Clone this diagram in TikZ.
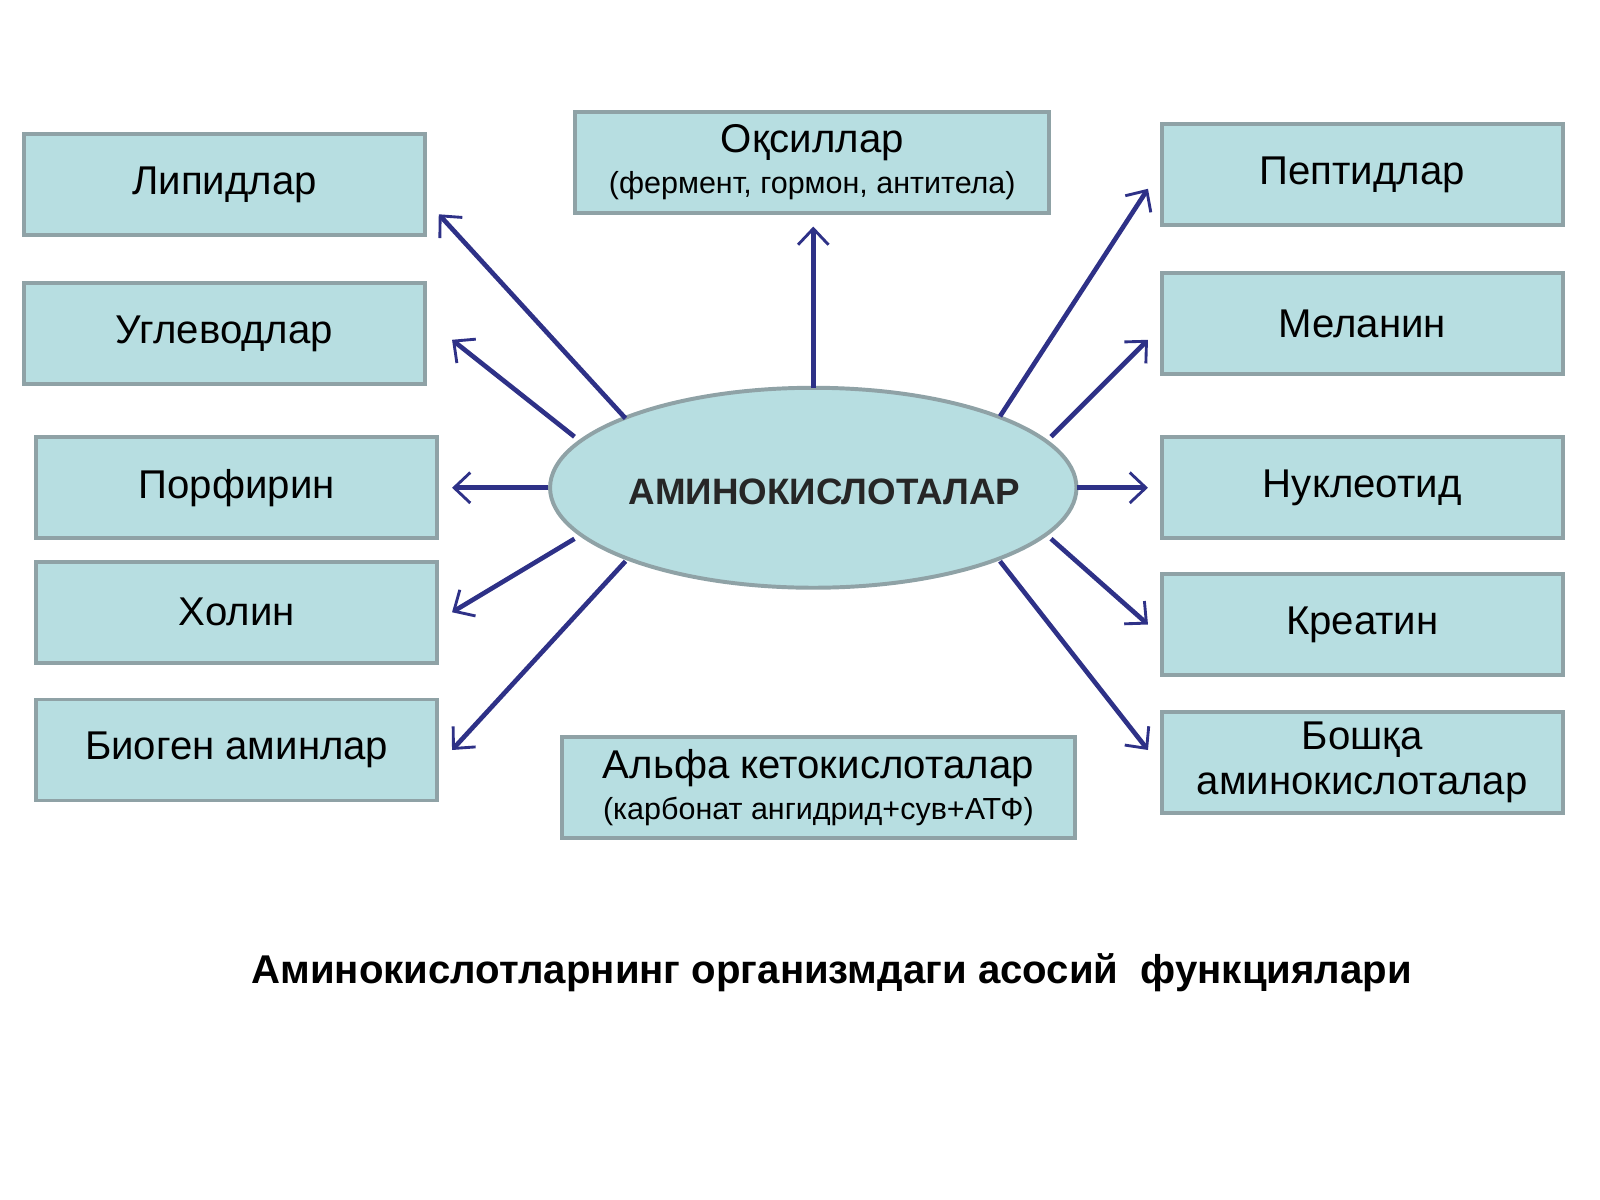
\documentclass[tikz,border=0pt]{standalone}
\usepackage{fontspec}
\setmainfont{Liberation Sans}
\usetikzlibrary{shapes.geometric,arrows.meta}
\definecolor{boxfill}{HTML}{B7DEE1}
\definecolor{boxline}{HTML}{8FA2A6}
\definecolor{arr}{HTML}{2E3187}
\begin{document}
\begin{tikzpicture}[x=0.02cm,y=-0.02cm,
  box/.style={draw=boxline,line width=2.2pt,fill=boxfill,minimum width=7.86cm,minimum height=1.98cm,inner sep=0pt,align=center,font=\fontsize{22.4}{27}\selectfont},
  wbox/.style={box,minimum width=9.3cm},
  ar/.style={draw=arr,line width=2.6pt,-{Straight Barb[length=9pt,width=17pt,line width=1.6pt]}}]
\useasboundingbox (0,0) rectangle (1568,1176);
\node[box] (lip) at (220,181) {\raisebox{-3pt}{Липидлар}};
\node[box] (ugl) at (220,327) {\raisebox{-3pt}{Углеводлар}};
\node[box] (por) at (232,478) {\raisebox{-3pt}{Порфирин}};
\node[box] (hol) at (232,600) {\raisebox{-3pt}{Холин}};
\node[box] (bio) at (232,735) {\raisebox{-3pt}{Биоген аминлар}};
\node[wbox] (oks) at (796,159) {Оқсиллар\\[-4pt]{\fontsize{17}{20}\selectfont(фермент, гормон, антитела)}};
\node[wbox,minimum width=10.06cm] (alf) at (802,772) {Альфа кетокислоталар\\[-4pt]{\fontsize{17}{20}\selectfont(карбонат ангидрид+сув+АТФ)}};
\node[box] (pep) at (1335,171) {\raisebox{-3pt}{Пептидлар}};
\node[box] (mel) at (1335,317) {\raisebox{-3pt}{Меланин}};
\node[box] (nuk) at (1335,478) {\raisebox{-3pt}{Нуклеотид}};
\node[box] (kre) at (1335,612) {\raisebox{-3pt}{Креатин}};
\node[box,font=\fontsize{22.4}{25}\selectfont] (bos) at (1335,747) {Бошқа\\аминокислоталар};
\node[ellipse,draw=boxline,line width=2.2pt,fill=boxfill,minimum width=10.32cm,minimum height=3.92cm] (amk) at (797,478) {};
\node[font=\bfseries\fontsize{20.5}{23}\selectfont,text=black!85] (amt) at (808,482) {АМИНОКИСЛОТАЛАР};
\coordinate (slip) at (613,410); \coordinate (elip) at (430,210);
\coordinate (sugl) at (563,428); \coordinate (eugl) at (443,333);
\coordinate (spor) at (537,478); \coordinate (epor) at (443,478);
\coordinate (shol) at (563,528); \coordinate (ehol) at (443,600);
\coordinate (sbio) at (613,550); \coordinate (ebio) at (443,735);
\coordinate (soks) at (797,380); \coordinate (eoks) at (797,222);
\coordinate (spep) at (980,408); \coordinate (epep) at (1125,185);
\coordinate (smel) at (1030,428); \coordinate (emel) at (1125,333);
\coordinate (snuk) at (1055,478); \coordinate (enuk) at (1125,478);
\coordinate (skre) at (1030,528); \coordinate (ekre) at (1125,612);
\coordinate (sbos) at (980,550); \coordinate (ebos) at (1125,735);
\foreach \n in {lip,ugl,por,hol,bio,oks,pep,mel,nuk,kre,bos}
  \draw[ar] (s\n) -- (e\n);
\node[font=\bfseries\fontsize{22.4}{26}\selectfont] (tit) at (815,953) {Аминокислотларнинг организмдаги асосий\ \ функциялари};
\end{tikzpicture}
\end{document}
